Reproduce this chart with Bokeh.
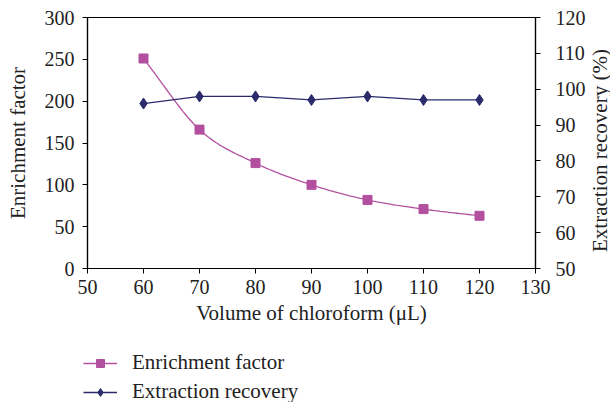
import numpy as np
from bokeh.plotting import figure
from bokeh.layouts import column, row
from bokeh.models import Range1d, LinearAxis, FixedTicker, Legend, LegendItem
from bokeh.core.properties import value
from bokeh.embed import file_html
from bokeh.resources import INLINE

volume = [60, 70, 80, 90, 100, 110, 120]
enrichment = [251, 166, 126, 100, 82, 71, 63]
recovery = [96, 98, 98, 97, 98, 97, 97]

x_ticks = [50, 60, 70, 80, 90, 100, 110, 120, 130]
left_ticks = [0, 50, 100, 150, 200, 250, 300]
right_ticks = [50, 60, 70, 80, 90, 100, 110, 120]

x_label = "Volume of chloroform (\u03bcL)"
left_label = "Enrichment factor"
right_label = "Extraction recovery (%)"
series_names = ["Enrichment factor", "Extraction recovery"]

EF_COLOR = "#b2509f"
ER_COLOR = "#2b2a6c"
FONT = "Liberation Serif"
TXT = "#222222"


def smooth(xs, ys, n=20):
    xs = np.asarray(xs, float)
    ys = np.asarray(ys, float)
    px = np.concatenate([[2 * xs[0] - xs[1]], xs, [2 * xs[-1] - xs[-2]]])
    py = np.concatenate([[2 * ys[0] - ys[1]], ys, [2 * ys[-1] - ys[-2]]])
    ox, oy = [], []
    for i in range(1, len(px) - 2):
        t = np.linspace(0, 1, n, endpoint=False)
        for arr, out in ((px, ox), (py, oy)):
            p0, p1, p2, p3 = arr[i - 1], arr[i], arr[i + 1], arr[i + 2]
            out.extend(0.5 * ((2 * p1) + (-p0 + p2) * t
                              + (2 * p0 - 5 * p1 + 4 * p2 - p3) * t ** 2
                              + (-p0 + 3 * p1 - 3 * p2 + p3) * t ** 3))
    ox.append(xs[-1])
    oy.append(ys[-1])
    return ox, oy


def draw_series(fig, **kw):
    sx, sy = smooth(volume, enrichment)
    l1 = fig.line(sx, sy, line_color=EF_COLOR, line_width=1.3)
    s1 = fig.scatter(volume, enrichment, marker="square", size=9,
                     fill_color=EF_COLOR, line_color=EF_COLOR)
    l2 = fig.line(volume, recovery, line_color=ER_COLOR, line_width=1.3, **kw)
    s2 = fig.scatter(volume, recovery, marker="diamond", size=11,
                     fill_color=ER_COLOR, line_color=ER_COLOR, **kw)
    return l1, s1, l2, s2


# main chart
p = figure(width=588, height=330, output_backend="svg", toolbar_location=None,
           x_range=Range1d(50, 130), y_range=Range1d(0, 300),
           min_border_left=87, min_border_right=52, min_border_top=17,
           min_border_bottom=62)
p.extra_y_ranges = {"rec": Range1d(50, 120)}
p.grid.visible = False
p.outline_line_color = "black"
p.outline_line_width = 1.2
p.background_fill_color = "white"
p.border_fill_color = "white"

draw_series(p, y_range_name="rec")

right = LinearAxis(y_range_name="rec")
p.add_layout(right, "right")

for ax in [p.xaxis[0], p.yaxis[0], right]:
    ax.major_label_text_font = FONT
    ax.major_label_text_font_size = "20px"
    ax.major_label_text_color = TXT
    ax.axis_label_text_font = FONT
    ax.axis_label_text_font_size = "21px"
    ax.axis_label_text_font_style = "normal"
    ax.axis_label_text_color = TXT
    ax.minor_tick_line_color = None
    ax.major_tick_in = 0
    ax.major_tick_out = 5
    ax.axis_line_color = "black"
    ax.major_tick_line_color = "black"
    ax.axis_line_width = 1.2

p.xaxis[0].major_label_standoff = 6
p.xaxis[0].axis_label_standoff = 4
p.yaxis[0].major_label_standoff = 8
p.yaxis[0].axis_label_standoff = 12
right.major_label_standoff = 15

p.xaxis[0].ticker = FixedTicker(ticks=x_ticks)
p.yaxis[0].ticker = FixedTicker(ticks=left_ticks)
right.ticker = FixedTicker(ticks=right_ticks)
p.xaxis[0].axis_label = x_label
p.yaxis[0].axis_label = left_label

# right-hand axis title (reads bottom to top)
r = figure(width=22, height=330, output_backend="svg", toolbar_location=None,
           x_range=Range1d(0, 1), y_range=Range1d(0, 1),
           x_axis_location=None, y_axis_location=None,
           min_border_left=0, min_border_right=0, min_border_top=17,
           min_border_bottom=62)
r.grid.visible = False
r.outline_line_color = None
r.border_fill_color = "white"
r.text(x=[0.5], y=[0.47], text=[right_label], angle=np.pi / 2,
       text_align="center", text_baseline="middle",
       text_font=value(FONT), text_font_size="21px", text_color=TXT)

# legend strip below the chart (its series sit outside its view)
q = figure(width=610, height=72, output_backend="svg", toolbar_location=None,
           x_range=Range1d(0, 1), y_range=Range1d(0, 1),
           x_axis_location=None, y_axis_location=None,
           min_border=0)
q.grid.visible = False
q.outline_line_color = None
q.border_fill_color = "white"
l1, s1, l2, s2 = draw_series(q)

legend = Legend(items=[LegendItem(label=series_names[0], renderers=[l1, s1]),
                       LegendItem(label=series_names[1], renderers=[l2, s2])],
                orientation="vertical", location=(83, -2),
                label_text_font=FONT, label_text_font_size="21px",
                label_text_color=TXT, glyph_width=34, label_standoff=15,
                background_fill_alpha=0, border_line_color=None,
                spacing=4, padding=0, margin=0)
q.add_layout(legend, "center")

layout = column(row(p, r, spacing=0), q, spacing=0)
open("out.html", "w").write(file_html(layout, INLINE))
